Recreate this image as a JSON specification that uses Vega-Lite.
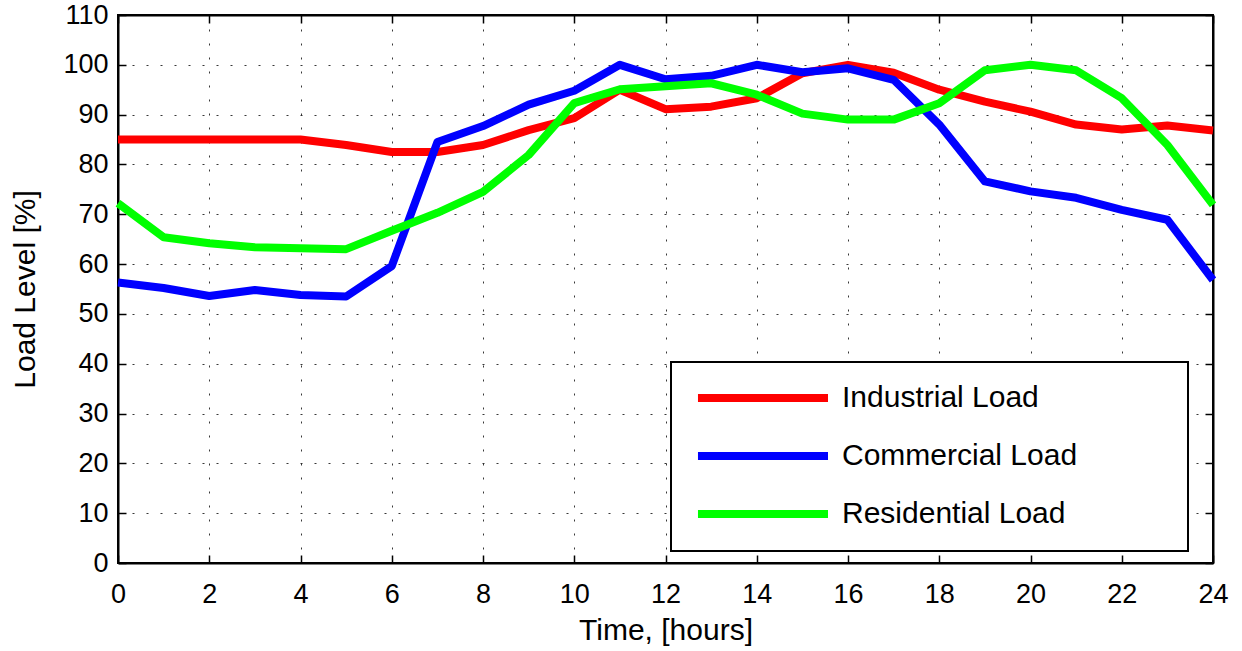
{
  "$schema": "https://vega.github.io/schema/vega-lite/v6.json",
  "width": 1095,
  "height": 548,
  "autosize": {"type": "none"},
  "padding": {"left": 118, "top": 15, "right": 29, "bottom": 88},
  "background": "white",
  "config": {
    "font": "Liberation Sans",
    "view": {"stroke": "black", "strokeWidth": 2},
    "legend": {"strokeWidth": 2},
    "axis": {
      "domainColor": "black",
      "domainWidth": 2,
      "tickColor": "black",
      "tickWidth": 1.5,
      "tickSize": -8,
      "labelFontSize": 27,
      "labelColor": "black",
      "labelFlush": false,
      "titleFontSize": 30,
      "titleFontWeight": "normal",
      "titleColor": "black",
      "gridColor": "#222",
      "gridDash": [2, 12],
      "gridWidth": 1,
      "gridOpacity": 0.9
    }
  },
  "data": {
    "values": [
      {"hour": 0, "load": 85, "type": "Industrial Load"},
      {"hour": 1, "load": 85, "type": "Industrial Load"},
      {"hour": 2, "load": 85, "type": "Industrial Load"},
      {"hour": 3, "load": 85, "type": "Industrial Load"},
      {"hour": 4, "load": 85, "type": "Industrial Load"},
      {"hour": 5, "load": 83.9, "type": "Industrial Load"},
      {"hour": 6, "load": 82.5, "type": "Industrial Load"},
      {"hour": 7, "load": 82.5, "type": "Industrial Load"},
      {"hour": 8, "load": 83.9, "type": "Industrial Load"},
      {"hour": 9, "load": 86.9, "type": "Industrial Load"},
      {"hour": 10, "load": 89.3, "type": "Industrial Load"},
      {"hour": 11, "load": 95, "type": "Industrial Load"},
      {"hour": 12, "load": 91.1, "type": "Industrial Load"},
      {"hour": 13, "load": 91.6, "type": "Industrial Load"},
      {"hour": 14, "load": 93.3, "type": "Industrial Load"},
      {"hour": 15, "load": 98.3, "type": "Industrial Load"},
      {"hour": 16, "load": 100, "type": "Industrial Load"},
      {"hour": 17, "load": 98.4, "type": "Industrial Load"},
      {"hour": 18, "load": 95, "type": "Industrial Load"},
      {"hour": 19, "load": 92.6, "type": "Industrial Load"},
      {"hour": 20, "load": 90.6, "type": "Industrial Load"},
      {"hour": 21, "load": 88, "type": "Industrial Load"},
      {"hour": 22, "load": 87, "type": "Industrial Load"},
      {"hour": 23, "load": 87.8, "type": "Industrial Load"},
      {"hour": 24, "load": 86.8, "type": "Industrial Load"},
      {"hour": 0, "load": 56.3, "type": "Commercial Load"},
      {"hour": 1, "load": 55.2, "type": "Commercial Load"},
      {"hour": 2, "load": 53.6, "type": "Commercial Load"},
      {"hour": 3, "load": 54.8, "type": "Commercial Load"},
      {"hour": 4, "load": 53.8, "type": "Commercial Load"},
      {"hour": 5, "load": 53.5, "type": "Commercial Load"},
      {"hour": 6, "load": 59.6, "type": "Commercial Load"},
      {"hour": 7, "load": 84.5, "type": "Commercial Load"},
      {"hour": 8, "load": 87.7, "type": "Commercial Load"},
      {"hour": 9, "load": 92, "type": "Commercial Load"},
      {"hour": 10, "load": 94.8, "type": "Commercial Load"},
      {"hour": 11, "load": 100, "type": "Commercial Load"},
      {"hour": 12, "load": 97.1, "type": "Commercial Load"},
      {"hour": 13, "load": 97.8, "type": "Commercial Load"},
      {"hour": 14, "load": 100, "type": "Commercial Load"},
      {"hour": 15, "load": 98.5, "type": "Commercial Load"},
      {"hour": 16, "load": 99.3, "type": "Commercial Load"},
      {"hour": 17, "load": 97, "type": "Commercial Load"},
      {"hour": 18, "load": 88, "type": "Commercial Load"},
      {"hour": 19, "load": 76.6, "type": "Commercial Load"},
      {"hour": 20, "load": 74.6, "type": "Commercial Load"},
      {"hour": 21, "load": 73.3, "type": "Commercial Load"},
      {"hour": 22, "load": 70.9, "type": "Commercial Load"},
      {"hour": 23, "load": 68.9, "type": "Commercial Load"},
      {"hour": 24, "load": 56.8, "type": "Commercial Load"},
      {"hour": 0, "load": 72.2, "type": "Residential Load"},
      {"hour": 1, "load": 65.4, "type": "Residential Load"},
      {"hour": 2, "load": 64.2, "type": "Residential Load"},
      {"hour": 3, "load": 63.4, "type": "Residential Load"},
      {"hour": 4, "load": 63.2, "type": "Residential Load"},
      {"hour": 5, "load": 63, "type": "Residential Load"},
      {"hour": 6, "load": 66.7, "type": "Residential Load"},
      {"hour": 7, "load": 70.3, "type": "Residential Load"},
      {"hour": 8, "load": 74.5, "type": "Residential Load"},
      {"hour": 9, "load": 81.9, "type": "Residential Load"},
      {"hour": 10, "load": 92.3, "type": "Residential Load"},
      {"hour": 11, "load": 95.1, "type": "Residential Load"},
      {"hour": 12, "load": 95.7, "type": "Residential Load"},
      {"hour": 13, "load": 96.3, "type": "Residential Load"},
      {"hour": 14, "load": 94, "type": "Residential Load"},
      {"hour": 15, "load": 90.2, "type": "Residential Load"},
      {"hour": 16, "load": 89, "type": "Residential Load"},
      {"hour": 17, "load": 89, "type": "Residential Load"},
      {"hour": 18, "load": 92.3, "type": "Residential Load"},
      {"hour": 19, "load": 98.9, "type": "Residential Load"},
      {"hour": 20, "load": 100, "type": "Residential Load"},
      {"hour": 21, "load": 98.9, "type": "Residential Load"},
      {"hour": 22, "load": 93.3, "type": "Residential Load"},
      {"hour": 23, "load": 83.9, "type": "Residential Load"},
      {"hour": 24, "load": 71.9, "type": "Residential Load"}
    ]
  },
  "layer": [
    {
      "mark": {"type": "line", "strokeWidth": 8, "strokeJoin": "round", "strokeCap": "butt"},
      "encoding": {
        "x": {
          "field": "hour", "type": "quantitative",
          "scale": {"domain": [0, 24], "nice": false, "zero": false},
          "axis": {"orient": "bottom", "values": [0,2,4,6,8,10,12,14,16,18,20,22,24], "title": "Time, [hours]", "labelPadding": 26, "titlePadding": 8, "grid": true}
        },
        "y": {
          "field": "load", "type": "quantitative",
          "scale": {"domain": [0, 110], "nice": false},
          "axis": {"orient": "left", "values": [0,10,20,30,40,50,60,70,80,90,100,110], "title": "Load Level [%]", "labelPadding": 18, "titlePadding": 22, "grid": true}
        },
        "color": {
          "field": "type", "type": "nominal",
          "scale": {"domain": ["Industrial Load", "Commercial Load", "Residential Load"], "range": ["#ff0000", "#0000ff", "#00ff00"]},
          "legend": {
            "title": null,
            "orient": "none",
            "legendX": 553,
            "legendY": 347,
            "symbolType": "M-0.82,0H11M40.3,0L40.3,0",
            "symbolSize": 484,
            "symbolStrokeWidth": 8,
            "labelFontSize": 30,
            "labelColor": "black",
            "labelLimit": 600,
            "labelOffset": 120,
            "rowPadding": 26,
            "padding": 21,
            "strokeColor": "black",
            "fillColor": "white"
          }
        }
      }
    },
    {
      "mark": {"type": "line", "opacity": 0},
      "encoding": {
        "x": {"field": "hour", "type": "quantitative", "axis": {"orient": "top", "labels": false, "title": null, "grid": false, "values": [0,2,4,6,8,10,12,14,16,18,20,22,24]}},
        "y": {"field": "load", "type": "quantitative", "axis": {"orient": "right", "labels": false, "title": null, "grid": false, "values": [0,10,20,30,40,50,60,70,80,90,100,110]}}
      }
    }
  ],
  "resolve": {"axis": {"x": "independent", "y": "independent"}}
}
